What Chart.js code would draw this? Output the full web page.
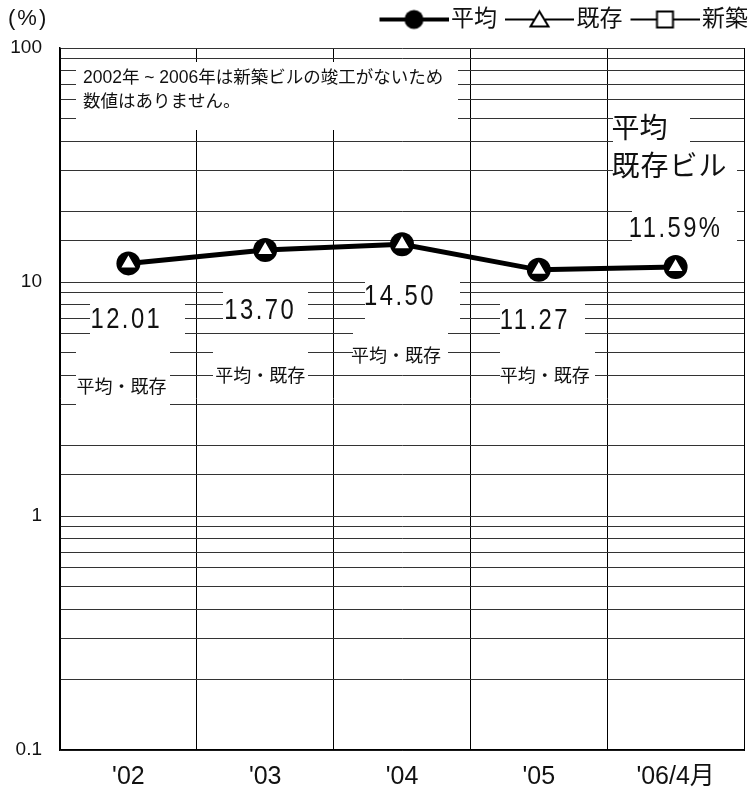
<!DOCTYPE html>
<html><head><meta charset="utf-8">
<script src="https://cdn.jsdelivr.net/npm/chart.js@4"></script>
<style>html,body{margin:0;padding:0;background:#fff;} canvas{display:block;}</style>
</head><body>
<canvas id="c" width="756" height="804"></canvas>
<script>
// ---------- data ----------
const categories = ["'02", "'03", "'04", "'05", "'06/4月"];
const averageValues = [12.01, 13.70, 14.50, 11.27, 11.59];
const existingValues = [12.01, 13.70, 14.50, 11.27, 11.59];
const newBuildValues = [null, null, null, null, null];
const seriesNames = ['平均', '既存', '新築'];
const yTickLabels = [0.1, 1, 10, 100];
const valueLabels = ['12.01', '13.70', '14.50', '11.27', '11.59%'];
const seriesLabels = ['平均・既存', '平均・既存', '平均・既存', '平均・既存'];
const lastSeriesLabels = ['平均', '既存ビル'];
const noteLines = ['2002年 ~ 2006年は新築ビルの竣工がないため', '数値はありません。'];
const unitLabel = '(%)';

// ---------- layout / style ----------
const FONT = '"Liberation Sans", "Noto Sans CJK JP", sans-serif';
const valueLabelLayout = [
  {dx: -2, y: 320}, {dx: -5, y: 311}, {dx: -2, y: 297}, {dx: -4, y: 321}, {dx: 0, y: 229}
];
const seriesLabelLayout = [
  {dx: -7, y: 388}, {dx: -5, y: 377}, {dx: -6, y: 357}, {dx: 6, y: 377}
];
const whiteBoxes = [
  [76, 62, 458, 130],
  [90, 297, 185, 345], [76, 345, 170, 412],
  [223, 288, 308, 332], [213, 345, 308, 395],
  [365, 278, 460, 328], [353, 330, 448, 368],
  [500, 297, 585, 345], [500, 345, 595, 395],
  [613, 112, 690, 150], [613, 152, 737, 195], [632, 200, 737, 250]
];

function makeIcon(kind) {
  const c = document.createElement('canvas');
  c.width = 78; c.height = 26;
  const g = c.getContext('2d');
  const cy = 13, x0 = 9, x1 = 78, mx = 43.5;
  g.strokeStyle = '#000';
  g.lineWidth = kind === 'circle' ? 4 : 2;
  g.beginPath(); g.moveTo(x0, cy); g.lineTo(x1, cy); g.stroke();
  g.lineWidth = 2;
  if (kind === 'circle') {
    g.fillStyle = '#000';
    g.beginPath(); g.arc(mx, cy, 9.5, 0, Math.PI * 2); g.fill();
  } else if (kind === 'triangle') {
    g.fillStyle = '#fff';
    g.beginPath(); g.moveTo(mx, cy - 8); g.lineTo(mx + 9, cy + 7); g.lineTo(mx - 9, cy + 7); g.closePath();
    g.fill(); g.stroke();
  } else {
    g.fillStyle = '#fff';
    g.fillRect(mx - 8, cy - 8, 16, 16); g.strokeRect(mx - 8, cy - 8, 16, 16);
  }
  return c;
}
const icons = [makeIcon('circle'), makeIcon('triangle'), makeIcon('square')];

function drawText(ctx, text, x, y, size, align, sx, ls) {
  ctx.save();
  ctx.font = size + 'px ' + FONT;
  ctx.letterSpacing = (ls || 0) + 'px';
  ctx.textBaseline = 'middle';
  ctx.textAlign = align;
  ctx.fillStyle = '#111';
  ctx.translate(x, y);
  ctx.scale(sx || 1, 1);
  ctx.fillText(text, 0, 0);
  ctx.restore();
}

const annotations = {
  id: 'annotations',
  beforeDatasetsDraw(chart) {
    const ctx = chart.ctx, xs = chart.scales.x;
    ctx.save();
    ctx.fillStyle = '#fff';
    whiteBoxes.forEach(r => ctx.fillRect(r[0], r[1], r[2] - r[0], r[3] - r[1]));
    ctx.restore();
    drawText(ctx, noteLines[0], 83, 78, 17.5, 'left', 1, 0);
    drawText(ctx, noteLines[1], 83, 102, 17.5, 'left', 1, 0);
    valueLabels.forEach((t, i) => {
      const L = valueLabelLayout[i];
      drawText(ctx, t, xs.getPixelForValue(i) + L.dx, L.y, 29, 'center', 0.82, 3);
    });
    seriesLabels.forEach((t, i) => {
      const L = seriesLabelLayout[i];
      drawText(ctx, t, xs.getPixelForValue(i) + L.dx, L.y, 18, 'center', 1, 0);
    });
    const lx = xs.getPixelForValue(4) - 64;
    drawText(ctx, lastSeriesLabels[0], lx, 130, 28, 'left', 1, 0);
    drawText(ctx, lastSeriesLabels[1], lx, 168, 28, 'left', 1, 1);
  },
  afterDraw(chart) {
    drawText(chart.ctx, unitLabel, 8, 19, 22, 'left', 1, 2);
  }
};

new Chart(document.getElementById('c'), {
  type: 'line',
  data: {
    labels: categories,
    datasets: [
      {
        label: seriesNames[1], data: existingValues, yAxisID: 'y', order: 0,
        showLine: false, pointStyle: 'triangle', pointRadius: 9.5, pointHoverRadius: 9.5,
        pointBackgroundColor: '#fff', pointBorderColor: '#000', pointBorderWidth: 1.5,
        borderColor: '#000', backgroundColor: '#fff'
      },
      {
        label: seriesNames[0], data: averageValues, yAxisID: 'y', order: 1,
        borderColor: '#000', borderWidth: 5, tension: 0,
        pointStyle: 'circle', pointRadius: 12, pointHoverRadius: 12,
        pointBackgroundColor: '#000', pointBorderColor: '#000', pointBorderWidth: 0,
        backgroundColor: '#000'
      },
      {
        label: seriesNames[2], data: newBuildValues, yAxisID: 'y', order: 2,
        borderColor: '#000', borderWidth: 2, pointStyle: 'rect', pointRadius: 7,
        pointBackgroundColor: '#fff', pointBorderColor: '#000', spanGaps: false
      }
    ]
  },
  options: {
    responsive: false,
    devicePixelRatio: 1,
    animation: false,
    layout: { padding: { top: 0, left: 0, right: 0, bottom: 0 } },
    plugins: {
      tooltip: { enabled: false },
      subtitle: { display: true, text: ' ', weight: 500, position: 'top', padding: 0, font: { size: 7, lineHeight: 1 } },
      legend: {
        position: 'top', align: 'end',
        labels: {
          usePointStyle: true, pointStyleWidth: 60, padding: 8,
          color: '#111',
          font: { size: 23, family: FONT },
          generateLabels() {
            return seriesNames.map((n, i) => ({
              text: n, pointStyle: icons[i], fillStyle: '#000', strokeStyle: '#000',
              lineWidth: 0, hidden: false, datasetIndex: [1, 0, 2][i], fontColor: '#111', rotation: 0
            }));
          }
        }
      }
    },
    scales: {
      x: {
        type: 'category', offset: true,
        grid: { offset: true, color: '#000', lineWidth: 1, drawTicks: false },
        border: { display: true, color: '#000', width: 1.5 },
        ticks: { color: '#111', font: { size: 25, family: FONT }, padding: 12, maxRotation: 0 },
        afterFit(s) { s.height = 54; }
      },
      y: {
        type: 'logarithmic', position: 'left', min: 0.1, max: 100,
        grid: { color: '#333', lineWidth: 1, drawTicks: false },
        border: { display: true, color: '#000', width: 1.5 },
        ticks: {
          color: '#111', font: { size: 19, family: FONT }, padding: 18, autoSkip: false,
          callback(v) { return yTickLabels.some(t => Math.abs(t - v) < 1e-9) ? String(v) : ''; }
        },
        afterFit(s) { s.width = 60; }
      },
      y2: {
        type: 'linear', position: 'right', display: true,
        grid: { display: false, drawTicks: false },
        border: { display: true, color: '#000', width: 1 },
        ticks: { display: false },
        afterFit(s) { s.width = 8; }
      }
    }
  },
  plugins: [annotations]
});
</script>
</body></html>
